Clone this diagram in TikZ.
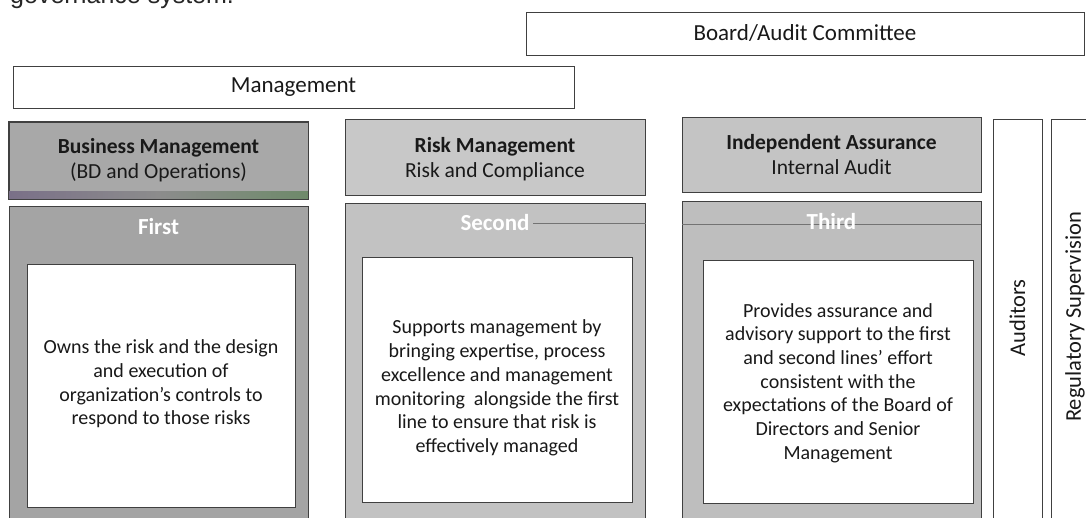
\documentclass[tikz,border=0pt]{standalone}
\usepackage{fontspec}
\setmainfont{Carlito}
\newfontfamily\arialfont{Liberation Sans}
\definecolor{hdrA}{HTML}{A8A8A8}
\definecolor{lineA}{HTML}{A4A4A4}
\definecolor{hdrB}{HTML}{C8C8C8}
\definecolor{lineB}{HTML}{C2C2C2}
\definecolor{hdrC}{HTML}{C4C4C4}
\definecolor{lineC}{HTML}{BEBEBE}
\definecolor{stripL}{HTML}{7A7088}
\definecolor{stripM}{HTML}{8C8C8C}
\definecolor{stripR}{HTML}{6E8A6A}
\begin{document}
\begin{tikzpicture}[x=1pt,y=-1pt,
  frame/.style={draw=black!75, line width=0.9pt, rectangle, inner sep=0pt},
  toptext/.style={font=\fontsize{23}{27}\selectfont, text=black!90},
  hdrtext/.style={font=\fontsize{21.5}{25}\selectfont, align=center, text=black!90},
  linelabel/.style={font=\bfseries\fontsize{23}{27}\selectfont, text=white},
  desc/.style={font=\fontsize{20}{23.7}\selectfont, align=center, text=black!90},
  sidetext/.style={font=\fontsize{22.5}{26}\selectfont, rotate=90, text=black!90},
  artline/.style={draw=black!55, line width=0.4pt}]
\clip (0,0) rectangle (1086,517);
\fill[white] (0,0) rectangle (1086,517);

% cropped caption text at the top
\node[anchor=base west, inner sep=0pt, font=\arialfont\fontsize{25}{30}\selectfont, text=black!85] (gov) at (10,3) {governance system.};

% top bars
\node[frame, fill=white, minimum width=558, minimum height=43] (board) at (805,33.5) {};
\node[toptext] (boardt) at (board.center) {Board/Audit Committee};
\node[frame, fill=white, minimum width=561, minimum height=42] (mgmt) at (293.5,87) {};
\node[toptext] (mgmtt) at (mgmt.center) {Management};

% headers
\node[frame, fill=hdrA, minimum width=299, minimum height=77] (h1) at (158.5,160.5) {};
\shade[left color=stripL, right color=stripR, middle color=stripM] (9,191) rectangle (308,199);
\draw[black!75, line width=0.9pt] (h1.north west) rectangle (h1.south east);
\node[hdrtext] (h1t) at (158.5,160.5) {\textbf{Business Management}\\(BD and Operations)};

\node[frame, fill=hdrB, minimum width=300, minimum height=76] (h2) at (495,157) {};
\node[hdrtext] (h2t) at (495,159.5) {\textbf{Risk Management}\\Risk and Compliance};

\node[frame, fill=hdrC, minimum width=299, minimum height=75] (h3) at (831.5,154.5) {};
\node[hdrtext] (h3t) at (831.5,154.5) {\textbf{Independent Assurance}\\Internal Audit};

% line boxes
\node[frame, fill=lineA, minimum width=299, minimum height=334, anchor=north west] (l1) at (9,206) {};
\node[linelabel] (l1t) at (158.5,227) {First};
\node[frame, fill=white, minimum width=268, minimum height=243] (in1) at (161,385.5) {};
\node[desc] (d1) at (161,384) {Owns the risk and the design\\and execution of\\organization's controls to\\respond to those risks};

\node[frame, fill=lineB, minimum width=300, minimum height=337, anchor=north west] (l2) at (345,203) {};
\node[linelabel] (l2t) at (495,223) {Second};
\draw[artline] (l2t.east) -- (l2t.east -| l2.east);
\node[frame, fill=white, minimum width=270, minimum height=245] (in2) at (497,379.5) {};
\node[desc] (d2) at (497,388) {Supports management by\\bringing expertise, process\\excellence and management\\monitoring\ \ alongside the first\\line to ensure that risk is\\effectively managed};

\node[frame, fill=lineC, minimum width=299, minimum height=339, anchor=north west] (l3) at (682,201) {};
\draw[artline] (682,224) -- (981,224);
\node[linelabel] (l3t) at (831.5,222) {Third};
\node[frame, fill=white, minimum width=270, minimum height=243] (in3) at (838,381.5) {};
\node[desc] (d3) at (838,383) {Provides assurance and\\advisory support to the first\\and second lines' effort\\consistent with the\\expectations of the Board of\\Directors and Senior\\Management};

% side bars
\node[frame, fill=white, minimum width=49, minimum height=421, anchor=north west] (aud) at (993,119) {};
\node[sidetext] (audt) at (1017.5,318) {Auditors};
\node[frame, fill=white, minimum width=59, minimum height=421, anchor=north west] (reg) at (1051,119) {};
\node[sidetext] (regt) at (1075,317) {Regulatory Supervision};
\end{tikzpicture}
\end{document}
